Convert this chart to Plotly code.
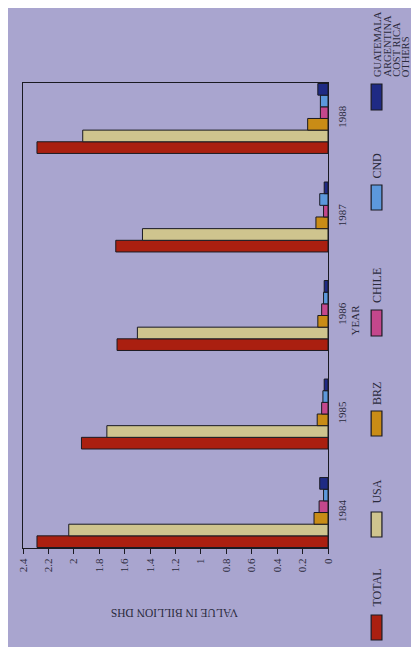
import plotly.graph_objects as go

years = ["1984", "1985", "1986", "1987", "1988"]
total = [2.29, 1.94, 1.66, 1.67, 2.29]
usa = [2.04, 1.74, 1.50, 1.46, 1.93]
brz = [0.11, 0.085, 0.08, 0.095, 0.16]
chile = [0.07, 0.05, 0.05, 0.035, 0.06]
cnd = [0.035, 0.04, 0.035, 0.065, 0.06]
others = [0.065, 0.03, 0.03, 0.03, 0.08]
x_ticks = [0, 0.2, 0.4, 0.6, 0.8, 1, 1.2, 1.4, 1.6, 1.8, 2, 2.2, 2.4]
x_tick_text = ["0", "0.2", "0.4", "0.6", "0.8", "1", "1.2", "1.4", "1.6", "1.8", "2", "2.2", "2.4"]
others_label_lines = ["GUATEMALA", "ARGENTINA", "COST RICA", "OTHERS"]

series = [
    ("TOTAL", total, "#aa1f10"),
    ("USA", usa, "#cfc48e"),
    ("BRZ", brz, "#c98c16"),
    ("CHILE", chile, "#c4478c"),
    ("CND", cnd, "#5c98dc"),
    ("OTHERS", others, "#1f2a84"),
]

BG = "#a9a5cf"
INK = "#2b2a3c"
FONT = "Liberation Serif"

# page offset (browser body margin) compensation; coordinates below are screen pixels
OFF = 8
PL, PR, PT, PB = 17, 328, 83, 548  # plot area edges on screen
FW, FH = 419 - OFF, 647 - OFF

def px(x):
    return (x - PL) / (PR - PL)

def py(y):
    return (PB - y) / (PB - PT)

fig = go.Figure()
for name, vals, col in series:
    fig.add_trace(go.Bar(
        y=years, x=vals, name=name, orientation="h",
        marker=dict(color=col, line=dict(color="#1a1a22", width=1)),
        showlegend=False,
    ))

fig.update_layout(
    width=FW, height=FH,
    margin=dict(l=PL - OFF, r=FW - (PR - OFF), t=PT - OFF, b=FH - (PB - OFF), pad=0),
    paper_bgcolor=BG, plot_bgcolor=BG,
    barmode="group", bargap=0.29, bargroupgap=0,
    font=dict(family=FONT, color=INK, size=11),
)
fig.update_xaxes(
    range=[2.4, 0], tickvals=x_ticks, ticktext=x_tick_text,
    tickangle=-90, ticks="outside", ticklen=5, tickcolor="#1a1a22",
    showline=True, linecolor="#1a1a22", linewidth=1, mirror=True,
    showgrid=False, zeroline=False, tickfont=dict(size=11, family=FONT, color=INK),
)
fig.update_yaxes(
    type="category", categoryorder="array", categoryarray=years,
    range=[-0.36, 4.36], side="right", tickangle=-90,
    ticks="outside", ticklen=4, tickcolor="rgba(0,0,0,0)",
    showline=True, linecolor="#1a1a22", linewidth=1, mirror=True,
    showgrid=False, zeroline=False, tickfont=dict(size=11, family=FONT, color=INK),
)

# axis titles
fig.add_annotation(text="VALUE IN BILLION DHS", textangle=180, xref="paper", yref="paper",
                   x=px(172), y=py(613), showarrow=False,
                   xanchor="center", yanchor="middle", font=dict(size=11.5, family=FONT, color=INK))
fig.add_annotation(text="YEAR", textangle=-90, xref="paper", yref="paper",
                   x=px(356), y=py(320), showarrow=False,
                   xanchor="center", yanchor="middle", font=dict(size=11, family=FONT, color=INK))

# legend (rotated), built from swatches + rotated labels
legend_pos = [  # swatch top y, swatch bottom y, label bottom y
    (615, 640, 609),
    (512, 537, 506),
    (411, 436, 407),
    (310, 336, 305),
    (185, 210, 181),
    (84, 110, 79),
]
for (name, vals, col), (st, sb, lb) in zip(series, legend_pos):
    fig.add_shape(type="rect", xref="paper", yref="paper",
                  x0=px(372), x1=px(383), y0=py(sb), y1=py(st),
                  fillcolor=col, line=dict(color="#1a1a22", width=1.2))
    if name == "OTHERS":
        for i, line in enumerate(others_label_lines):
            fig.add_annotation(text=line, textangle=-90, xref="paper", yref="paper",
                               x=px(378 + 9.8 * i), y=py(lb), showarrow=False,
                               xanchor="center", yanchor="bottom",
                               font=dict(size=10.5, family=FONT, color=INK))
    else:
        fig.add_annotation(text=name, textangle=-90, xref="paper", yref="paper",
                           x=px(377.5), y=py(lb), showarrow=False,
                           xanchor="center", yanchor="bottom",
                           font=dict(size=12, family=FONT, color=INK))

fig.write_html("out.html")
